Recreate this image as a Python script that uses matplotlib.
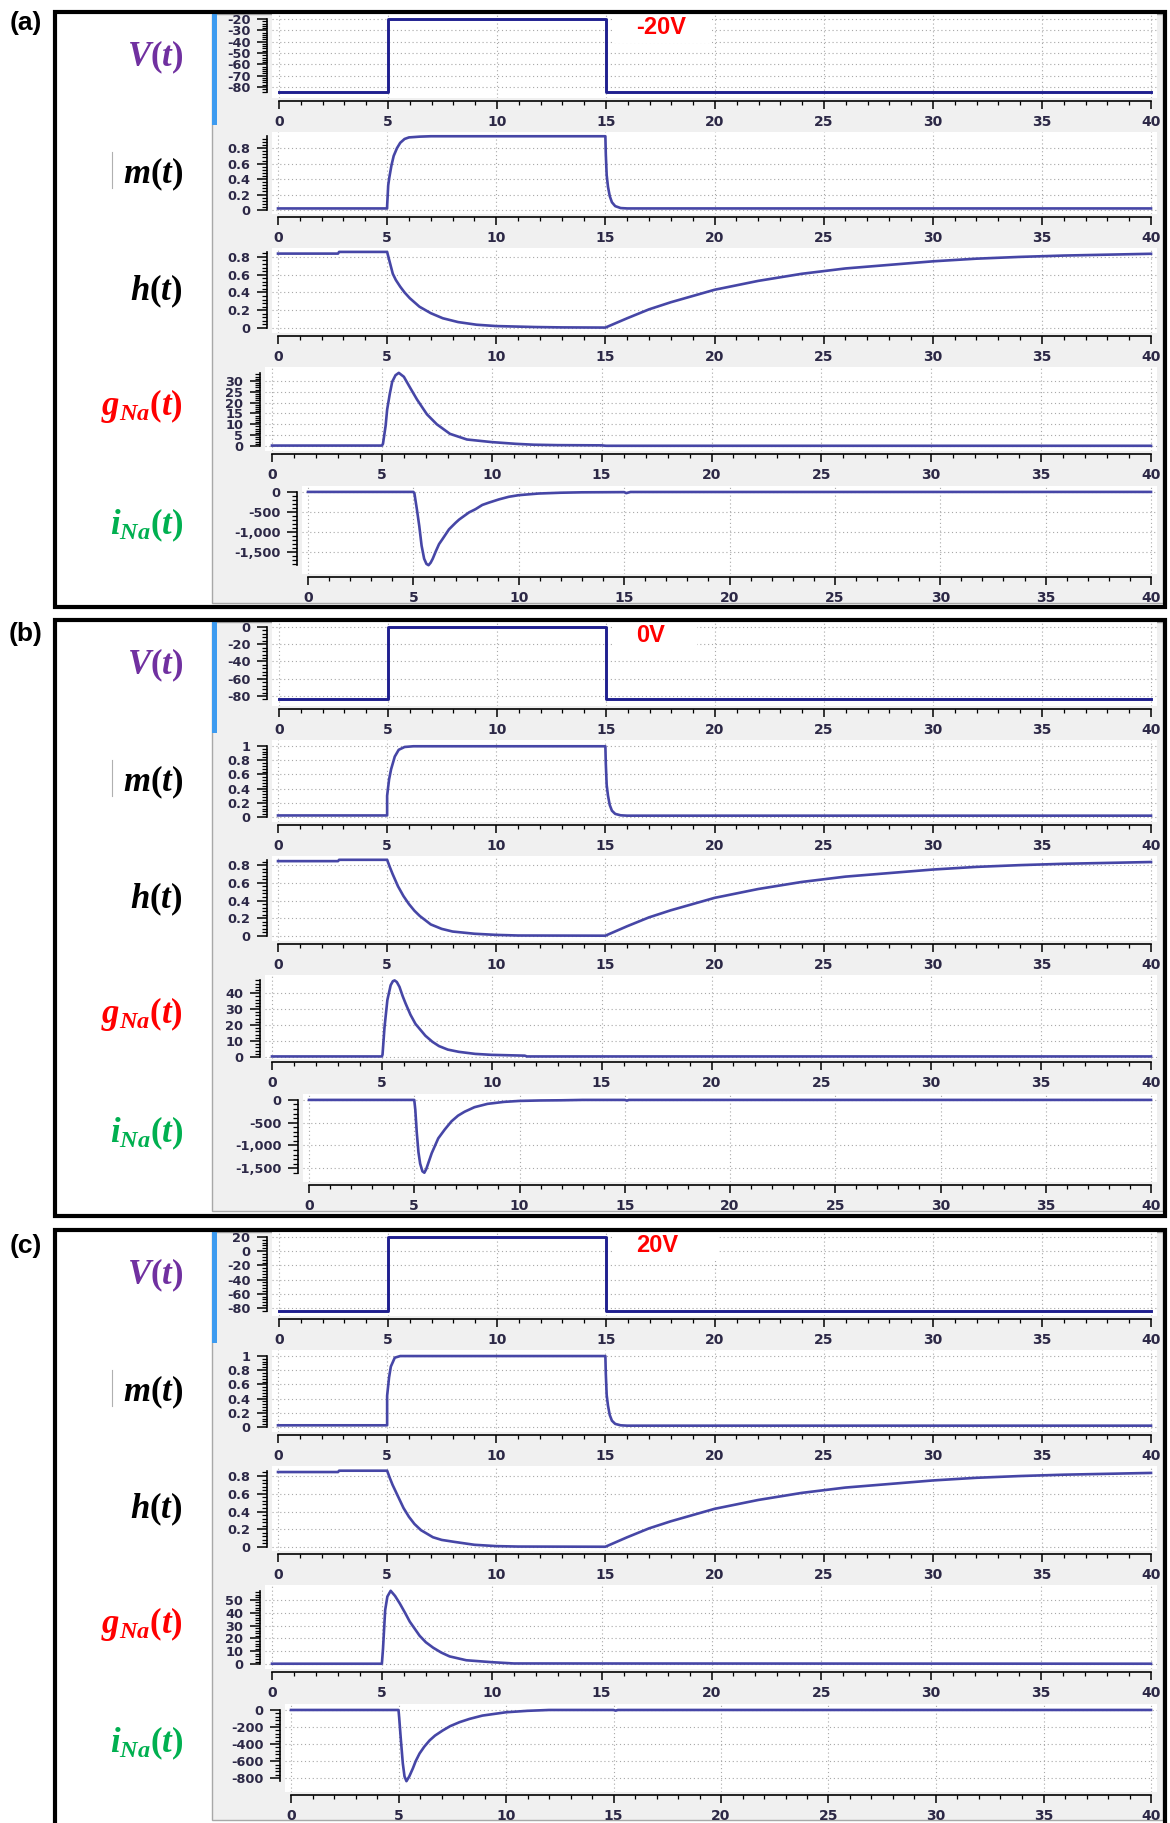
import numpy as np
import matplotlib
matplotlib.use('Agg')
import matplotlib.pyplot as plt
from matplotlib.patches import Rectangle
from matplotlib.lines import Line2D
from matplotlib.ticker import FixedLocator, FuncFormatter

plt.rcParams['axes.unicode_minus'] = False
plt.rcParams['mathtext.fontset'] = 'custom'
plt.rcParams['mathtext.it'] = 'Liberation Serif:italic:bold'
plt.rcParams['mathtext.rm'] = 'Liberation Serif:bold'
plt.rcParams['mathtext.bf'] = 'Liberation Serif:bold'

# ---------------- data ----------------
panel_tags = ['(a)', '(b)', '(c)']
pulse_labels = ['-20V', '0V', '20V']
var_labels = [r'$V(t)$', r'$m(t)$', r'$h(t)$', r'$g_{Na}(t)$', r'$i_{Na}(t)$']
var_colors = ['#7030a0', '#000000', '#000000', '#ff0000', '#00b050']

t_V = [0, 5, 5, 15, 15, 40]
V_a = [-84, -84, -20, -20, -84, -84]
V_b = [-84, -84, 0, 0, -84, -84]
V_c = [-84, -84, 20, 20, -84, -84]

t_m_a = [0, 5.0, 5.0, 5.05, 5.1, 5.2, 5.3, 5.45, 5.6, 5.8, 6.0, 6.5, 7.0, 15.0, 15.02, 15.06, 15.12, 15.2, 15.3, 15.45, 15.7, 16.0, 40]
m_a = [0.02, 0.02, 0.05, 0.32, 0.42, 0.58, 0.70, 0.80, 0.87, 0.92, 0.94, 0.95, 0.955, 0.955, 0.72, 0.45, 0.30, 0.18, 0.10, 0.05, 0.025, 0.02, 0.02]
t_m_b = [0, 5.0, 5.0, 5.09, 5.18, 5.35, 5.53, 5.8, 6.2, 15.0, 15.02, 15.06, 15.12, 15.2, 15.3, 15.45, 15.7, 16.0, 40]
m_b = [0.023, 0.023, 0.3, 0.53, 0.67, 0.85, 0.945, 0.985, 0.995, 0.995, 0.75, 0.45, 0.30, 0.17, 0.09, 0.045, 0.025, 0.02, 0.02]
t_m_c = [0, 5.0, 5.0, 5.09, 5.17, 5.35, 5.6, 15.0, 15.02, 15.06, 15.12, 15.2, 15.3, 15.45, 15.7, 16.0, 40]
m_c = [0.025, 0.025, 0.44, 0.70, 0.85, 0.975, 0.998, 0.998, 0.75, 0.45, 0.30, 0.17, 0.09, 0.045, 0.025, 0.02, 0.02]

t_h_a = [0, 2.75, 2.8, 5.0, 5.1, 5.26, 5.4, 5.6, 5.8, 6.04, 6.48, 7.0, 7.55, 8.25, 9.1, 10, 11.8, 13, 15,
         16, 17, 18, 19, 20, 22, 24, 26, 28, 30, 32, 34, 36, 38, 40]
h_a = [0.837, 0.837, 0.856, 0.856, 0.76, 0.61, 0.54, 0.465, 0.40, 0.335, 0.24, 0.167, 0.11, 0.067, 0.037, 0.022, 0.011, 0.007, 0.005,
       0.11, 0.21, 0.29, 0.36, 0.43, 0.53, 0.61, 0.67, 0.71, 0.75, 0.78, 0.80, 0.815, 0.825, 0.835]
t_h_b = [0, 2.75, 2.8, 5.0, 5.12, 5.25, 5.5, 5.75, 6.0, 6.25, 6.5, 7.0, 7.5, 8.0, 9.0, 10, 11, 15,
         16, 17, 18, 19, 20, 22, 24, 26, 28, 30, 32, 34, 36, 38, 40]
h_b = [0.845, 0.845, 0.86, 0.86, 0.78, 0.70, 0.56, 0.45, 0.36, 0.285, 0.225, 0.13, 0.08, 0.05, 0.025, 0.012, 0.005, 0.003,
       0.11, 0.21, 0.29, 0.36, 0.43, 0.53, 0.61, 0.67, 0.71, 0.75, 0.78, 0.80, 0.815, 0.825, 0.835]
t_h_c = [0, 2.75, 2.8, 5.0, 5.12, 5.25, 5.5, 5.75, 6.0, 6.25, 6.55, 7.1, 7.5, 8.1, 9.0, 10, 11, 15,
         16, 17, 18, 19, 20, 22, 24, 26, 28, 30, 32, 34, 36, 38, 40]
h_c = [0.845, 0.845, 0.86, 0.86, 0.78, 0.70, 0.57, 0.44, 0.34, 0.26, 0.19, 0.11, 0.08, 0.057, 0.025, 0.01, 0.005, 0.003,
       0.11, 0.21, 0.29, 0.36, 0.43, 0.53, 0.61, 0.67, 0.71, 0.75, 0.78, 0.80, 0.815, 0.825, 0.835]

t_g_a = [0, 5.0, 5.05, 5.17, 5.24, 5.36, 5.47, 5.62, 5.77, 6.0, 6.3, 6.6, 7.05, 7.5, 8.1, 8.87, 10, 11.1, 11.9, 13, 15, 15.2, 40]
g_a = [0.2, 0.2, 1.0, 9.3, 16.8, 24, 29.6, 32.6, 33.7, 31.9, 26.6, 21.4, 14.6, 10, 5.6, 3.0, 1.8, 1.0, 0.6, 0.4, 0.3, 0.1, 0.1]
t_g_b = [0, 5.0, 5.03, 5.12, 5.25, 5.4, 5.5, 5.58, 5.68, 5.8, 5.95, 6.08, 6.3, 6.53, 6.98, 7.3, 7.6, 8.0, 8.5, 9.25, 10, 11.5, 11.6, 40]
g_b = [0.3, 0.3, 1.5, 18.6, 35.7, 45, 47.5, 48, 47, 44, 38, 33.5, 26.5, 20.7, 13.3, 9.5, 6.8, 4.6, 3.2, 1.9, 1.3, 0.8, 0.3, 0.3]
t_g_c = [0, 5.0, 5.05, 5.15, 5.25, 5.4, 5.6, 5.82, 6.05, 6.27, 6.72, 7.0, 7.33, 7.7, 8.08, 8.84, 10, 11, 40]
g_c = [0.3, 0.3, 11.5, 42, 52.5, 57, 53, 47, 40, 33, 22, 17, 12.8, 9.0, 6.0, 3.0, 1.5, 0.5, 0.3]

t_i_a = [0, 5.0, 5.05, 5.17, 5.28, 5.39, 5.51, 5.62, 5.72, 5.82, 5.92, 6.06, 6.22, 6.38, 6.69, 7.0, 7.17, 7.64, 7.95, 8.27,
         8.58, 9.06, 9.53, 10, 10.94, 12, 13, 15, 15.1, 15.3, 40]
i_a = [0, 0, -40, -445, -850, -1336, -1660, -1790, -1822, -1760, -1660, -1482, -1296, -1174, -931, -769, -688, -510, -429, -324,
       -267, -186, -121, -81, -40, -20, -10, -5, -30, -2, 0]
t_i_b = [0, 5.0, 5.05, 5.12, 5.2, 5.28, 5.39, 5.48, 5.57, 5.67, 5.83, 6.14, 6.45, 6.77, 7.08, 7.39, 7.86, 8.48, 9.27, 10,
         11, 12, 13, 15, 15.1, 15.2, 40]
i_b = [0, 0, -216, -720, -1150, -1400, -1570, -1600, -1520, -1385, -1170, -845, -650, -470, -346, -260, -160, -87, -43, -22,
       -12, -8, 0, 0, -15, 0, 0]
t_i_c = [0, 5.0, 5.03, 5.1, 5.2, 5.28, 5.37, 5.5, 5.67, 5.8, 5.98, 6.2, 6.45, 6.7, 7.06, 7.4, 7.84, 8.3, 8.9, 10, 11, 12,
         15, 15.1, 15.2, 40]
i_c = [0, 0, -85, -317, -626, -780, -835, -780, -684, -600, -510, -430, -356, -300, -240, -190, -143, -105, -66, -27, -10, 0,
       0, -8, 0, 0]

# y tick values per panel
V_ticks = [[-80, -70, -60, -50, -40, -30, -20], [-80, -60, -40, -20, 0], [-80, -60, -40, -20, 0, 20]]
m_ticks = [[0, 0.2, 0.4, 0.6, 0.8], [0, 0.2, 0.4, 0.6, 0.8, 1], [0, 0.2, 0.4, 0.6, 0.8, 1]]
h_ticks = [[0, 0.2, 0.4, 0.6, 0.8]] * 3
g_ticks = [[0, 5, 10, 15, 20, 25, 30], [0, 10, 20, 30, 40], [0, 10, 20, 30, 40, 50]]
i_ticks = [[-1500, -1000, -500, 0], [-1500, -1000, -500, 0], [-800, -600, -400, -200, 0]]
x_ticks = [0, 5, 10, 15, 20, 25, 30, 35, 40]

series = [
    [(t_V, V_a), (t_m_a, m_a), (t_h_a, h_a), (t_g_a, g_a), (t_i_a, i_a)],
    [(t_V, V_b), (t_m_b, m_b), (t_h_b, h_b), (t_g_b, g_b), (t_i_b, i_b)],
    [(t_V, V_c), (t_m_c, m_c), (t_h_c, h_c), (t_g_c, g_c), (t_i_c, i_c)],
]
ticks = [[V_ticks[p], m_ticks[p], h_ticks[p], g_ticks[p], i_ticks[p]] for p in range(3)]

# ---------------- layout (pixels) ----------------
W, H = 1170, 1823
fig = plt.figure(figsize=(W / 100, H / 100), dpi=100)
fig.patch.set_facecolor('white')

def fx(x):
    return x / W

def fy(y):
    return 1 - y / H

box_tops = [12, 620, 1230]
box_bottoms = [607, 1216, 1850]
grey_bottoms = [603, 1211, 1820]
tag_y = [23, 634, 1246]
volt_box_right = [712, 697, 717]
row_off = [(2, 86), (120, 202), (236, 321), (355, 439), (474, 562)]
label_off = [45, 162, 279, 394, 513]
wl_x0 = [(272, 279), (272, 278), (272, 278), (265, 272), None]
i_wl_x0 = [(302, 308), (303, 309), (285, 291)]
ylims = [
    [(-89.7, -15.6), (-0.052, 1.01), (-0.056, 0.90), (-2.3, 36.4), (-2041, 147)],
    [(-91.6, 5.8), (-0.069, 1.083), (-0.057, 0.903), (-1.3, 51.4), (-1804, 130)],
    [(-91.3, 27.0), (-0.069, 1.083), (-0.045, 0.913), (-3.8, 61.5), (-962, 70)],
]
WHITE_R, X40 = 1157, 1151
TICK_LBL = '#2c2846'

for p in range(3):
    T = box_tops[p]
    fig.add_artist(Rectangle((fx(212), fy(grey_bottoms[p])), fx(1163) - fx(212),
                             fy(T + 2) - fy(grey_bottoms[p]), transform=fig.transFigure,
                             facecolor='#f0f0f0', edgecolor='#a8a8a8', lw=1.0, zorder=-5))
    fig.add_artist(Rectangle((fx(212), fy(T + 113)), fx(217) - fx(212), fy(T + 2) - fy(T + 113),
                             transform=fig.transFigure, facecolor='#3d9bf0', edgecolor='none', zorder=-4))
    fig.add_artist(Rectangle((fx(55), fy(box_bottoms[p])), fx(1165) - fx(55), fy(T) - fy(box_bottoms[p]),
                             transform=fig.transFigure, fill=False, edgecolor='black', lw=3.0, zorder=20))
    fig.text(fx(26), fy(tag_y[p]), panel_tags[p], ha='center', va='center', fontsize=19,
             fontweight='bold', family='Liberation Sans')
    fig.add_artist(Line2D([fx(112), fx(112)], [fy(T + 140), fy(T + 176)], transform=fig.transFigure,
                          color='#b0b0b0', lw=0.8))

    for k in range(5):
        top, bot = row_off[k]
        wl, x0 = wl_x0[k] if k < 4 else i_wl_x0[p]
        s = (X40 - x0) / 40.0
        ax = fig.add_axes([fx(wl), fy(T + bot), fx(WHITE_R) - fx(wl), fy(T + top) - fy(T + bot)])
        ax.set_facecolor('white')
        t, y = series[p][k]
        ax.plot(t, y, color='#1f1f8f' if k == 0 else '#4646a6', lw=2.1 if k == 0 else 1.9,
                solid_joinstyle='round', zorder=3)
        ax.set_xlim(-(x0 - wl) / s, 40 + (WHITE_R - X40) / s)
        ax.set_ylim(*ylims[p][k])
        for sp in ['top', 'right']:
            ax.spines[sp].set_visible(False)
        ax.spines['left'].set_position(('outward', 3.6))
        ax.spines['bottom'].set_position(('outward', 2.5))
        ylo, yhi = min(min(y), min(ticks[p][k])), max(max(y), max(ticks[p][k]))
        ax.spines['left'].set_bounds(ylo, yhi)
        ax.spines['bottom'].set_bounds(0, 40)
        ax.spines['left'].set_linewidth(1.2)
        ax.spines['bottom'].set_linewidth(1.2)
        yt = ticks[p][k]
        step = yt[1] - yt[0]
        minors = np.arange(np.ceil(ylo / (step / 5)) * (step / 5), yhi + 1e-9, step / 5)
        ax.yaxis.set_major_locator(FixedLocator(yt))
        ax.yaxis.set_minor_locator(FixedLocator(minors))
        ax.xaxis.set_major_locator(FixedLocator(x_ticks))
        ax.xaxis.set_minor_locator(FixedLocator(np.arange(0, 41, 1)))
        if k == 4:
            ax.yaxis.set_major_formatter(FuncFormatter(lambda v, pos: f'{v:,.0f}'))
        else:
            ax.yaxis.set_major_formatter(FuncFormatter(lambda v, pos: f'{v:g}'))
        ax.tick_params(axis='y', which='major', direction='out', length=7, width=1.1,
                       pad=5, labelsize=9.3, labelcolor=TICK_LBL)
        ax.tick_params(axis='y', which='minor', direction='out', length=3.5, width=0.9)
        ax.tick_params(axis='x', which='major', direction='out', length=6, width=1.1,
                       pad=3.5, labelsize=10, labelcolor=TICK_LBL)
        ax.tick_params(axis='x', which='minor', direction='out', length=3, width=0.9)
        for lbl in ax.get_xticklabels() + ax.get_yticklabels():
            lbl.set_fontweight('bold')
        ax.grid(True, which='major', color='#a8a8a8', lw=0.8, linestyle=(0, (1, 2.5)))
        ax.set_axisbelow(True)

        fig.text(fx(183), fy(T + label_off[k]), var_labels[k], ha='right', va='center',
                 fontsize=25, color=var_colors[k])

    fig.add_artist(Rectangle((fx(612), fy(T + 31)), fx(volt_box_right[p]) - fx(612), fy(T + 1) - fy(T + 31),
                             transform=fig.transFigure, facecolor='white', edgecolor='none', zorder=5))
    fig.text(fx(636), fy(T + 16), pulse_labels[p], ha='left', va='center', fontsize=17,
             fontweight='bold', color='#ff0000', family='Liberation Sans', zorder=6)

fig.savefig('out.png', dpi=100)
